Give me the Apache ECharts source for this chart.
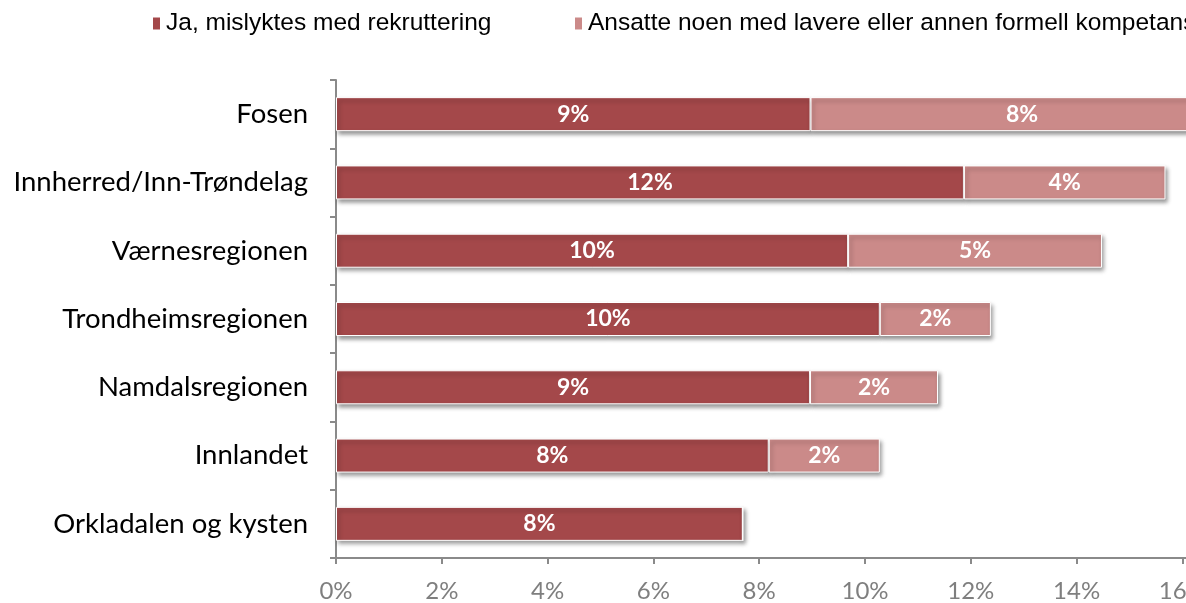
<!DOCTYPE html>
<html>
<head>
<meta charset="utf-8">
<script src="https://cdn.jsdelivr.net/npm/echarts@6/dist/echarts.min.js"></script>
<style>
  html, body { margin: 0; padding: 0; background: #fff; }
  #chart { width: 1186px; height: 603px; }
</style>
</head>
<body>
<div id="chart"></div>
<script>
const categories = [
  'Fosen',
  'Innherred/Inn-Trøndelag',
  'Værnesregionen',
  'Trondheimsregionen',
  'Namdalsregionen',
  'Innlandet',
  'Orkladalen og kysten'
]
const seriesNames = [
  'Ja, mislyktes med rekruttering',
  'Ansatte noen med lavere eller annen formell kompetanse'
]
const failedValues = [8.97, 11.87, 9.68, 10.28, 8.96, 8.18, 7.69]
const lowerValues = [8.0, 3.81, 4.8, 2.1, 2.42, 2.1, 0]
const xTicks = [0, 2, 4, 6, 8, 10, 12, 14, 16, 18]

const darkRed = '#A4484A'
const lightRed = '#CB8A89'
const axisGrey = '#8a8a8a'

const chart = echarts.init(document.getElementById('chart'))

function barLabel(p) {
  return p.value > 0 ? Math.round(p.value) + '%' : ''
}

const barItem = (color) => ({
  color: color,
  borderColor: '#fff',
  borderWidth: 1,
  shadowColor: 'rgba(0,0,0,0.4)',
  shadowBlur: 4,
  shadowOffsetX: 2,
  shadowOffsetY: 3
})

const labelStyle = {
  show: true,
  position: 'inside',
  color: '#fff',
  fontFamily: 'Lato',
  fontWeight: 'bold',
  fontSize: 23,
  formatter: barLabel
}

const legendText = {
  fontFamily: '"Liberation Sans Narrow", "Liberation Sans", sans-serif',
  fontSize: 24.5,
  color: '#000'
}

chart.setOption({
  backgroundColor: '#fff',
  animation: false,
  legend: [
    {
      data: [seriesNames[0]],
      left: 146,
      top: 6,
      width: 600,
      itemWidth: 9,
      itemHeight: 14,
      itemGap: 4,
      icon: 'rect',
      textStyle: legendText
    },
    {
      data: [seriesNames[1]],
      left: 568,
      top: 6,
      width: 1200,
      itemWidth: 9,
      itemHeight: 14,
      icon: 'rect',
      textStyle: legendText
    }
  ],
  grid: {
    left: 336,
    top: 80,
    width: xTicks[xTicks.length - 1] * 52.9,
    bottom: 45,
    containLabel: false,
    outerBoundsMode: 'none'
  },
  xAxis: {
    type: 'value',
    min: xTicks[0],
    max: xTicks[xTicks.length - 1],
    interval: 2,
    splitLine: { show: false },
    axisLine: { show: true, lineStyle: { color: axisGrey, width: 2 } },
    axisTick: { show: true, length: 6, lineStyle: { color: axisGrey, width: 2 } },
    axisLabel: {
      formatter: '{value}%',
      color: '#7f7f7f',
      fontFamily: 'Lato',
      fontSize: 24,
      margin: 21
    }
  },
  yAxis: {
    type: 'category',
    inverse: true,
    data: categories,
    axisLine: { show: true, lineStyle: { color: axisGrey, width: 2 } },
    axisTick: { show: true, length: 6, lineStyle: { color: axisGrey, width: 2 } },
    axisLabel: {
      color: '#000',
      fontFamily: 'Lato',
      fontSize: 27.5,
      margin: 28
    }
  },
  series: [
    {
      name: seriesNames[0],
      type: 'bar',
      stack: 'total',
      barWidth: 34,
      data: failedValues,
      itemStyle: barItem(darkRed),
      label: labelStyle
    },
    {
      name: seriesNames[1],
      type: 'bar',
      stack: 'total',
      barWidth: 34,
      data: lowerValues,
      itemStyle: barItem(lightRed),
      label: labelStyle
    }
  ]
})
</script>
</body>
</html>
